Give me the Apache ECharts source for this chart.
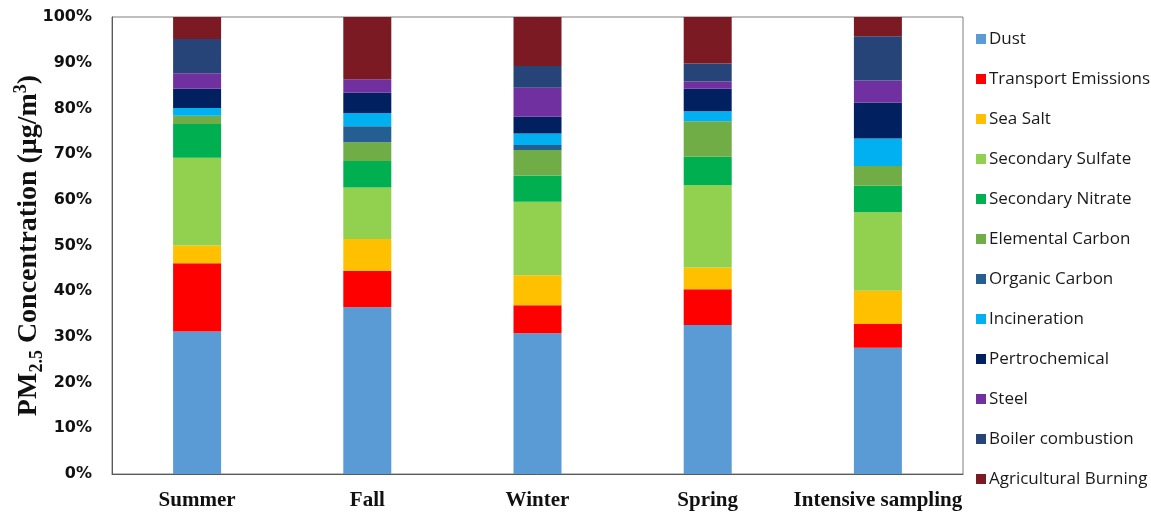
<!DOCTYPE html>
<html>
<head>
<meta charset="utf-8">
<script src="https://cdn.jsdelivr.net/npm/echarts@6/dist/echarts.min.js"></script>
<style>
  html, body { margin: 0; padding: 0; background: #fff; }
  #chart { width: 1151px; height: 513px; }
</style>
</head>
<body>
<div id="chart"></div>
<script>
// Source-apportionment shares of PM2.5 (%) per sampling period
const categories = ['Summer', 'Fall', 'Winter', 'Spring', 'Intensive sampling'];

const dust                = [31.2, 36.5, 30.8, 32.6, 27.6];
const transportEmissions  = [14.9,  8.0,  6.1,  7.8,  5.2];
const seaSalt             = [ 3.9,  6.9,  6.6,  4.8,  7.3];
const secondarySulfate    = [19.2, 11.3, 16.1, 18.0, 17.2];
const secondaryNitrate    = [ 7.4,  5.8,  5.7,  6.2,  5.8];
const elementalCarbon     = [ 1.8,  4.1,  5.6,  7.8,  4.3];
const organicCarbon       = [ 0.0,  3.5,  1.1,  0.0,  0.0];
const incineration        = [ 1.7,  2.9,  2.5,  2.2,  6.0];
const pertrochemical      = [ 4.2,  4.4,  3.7,  4.9,  7.9];
const steel               = [ 3.4,  3.0,  6.3,  1.6,  4.8];
const boilerCombustion    = [ 7.5,  0.0,  4.8,  3.9,  9.7];
const agriculturalBurning = [ 4.8, 13.6, 10.7, 10.2,  4.2];

const yTicks = [0, 10, 20, 30, 40, 50, 60, 70, 80, 90, 100];

const seriesDefs = [
  ['Dust', dust, '#5B9BD5'],
  ['Transport Emissions', transportEmissions, '#FF0000'],
  ['Sea Salt', seaSalt, '#FFC000'],
  ['Secondary Sulfate', secondarySulfate, '#92D050'],
  ['Secondary Nitrate', secondaryNitrate, '#00B050'],
  ['Elemental Carbon', elementalCarbon, '#70AD47'],
  ['Organic Carbon', organicCarbon, '#255E91'],
  ['Incineration', incineration, '#00B0F0'],
  ['Pertrochemical', pertrochemical, '#002060'],
  ['Steel', steel, '#7030A0'],
  ['Boiler combustion', boilerCombustion, '#264478'],
  ['Agricultural Burning', agriculturalBurning, '#7B1A22']
];

const chart = echarts.init(document.getElementById('chart'), null, { renderer: 'canvas' });

const serif = '"Liberation Serif", "Times New Roman", serif';

const option = {
  animation: false,
  backgroundColor: '#ffffff',
  grid: {
    left: 112, right: 188, top: 17, bottom: 39,
    outerBoundsMode: 'none',
    containLabel: false,
    show: true, borderColor: '#7f7f7f', borderWidth: 1, backgroundColor: 'transparent'
  },
  legend: {
    orient: 'vertical',
    left: 971,
    top: 24,
    itemWidth: 10,
    itemHeight: 10,
    itemGap: 20,
    icon: 'rect',
    selectedMode: false,
    textStyle: {
      fontFamily: '"Open Sans", sans-serif',
      fontSize: 17,
      color: '#1a1a1a',
      lineHeight: 20,
      padding: [0, 0, 0, -2]
    },
    data: seriesDefs.map(d => d[0])
  },
  xAxis: {
    type: 'category',
    data: categories,
    axisLine: { lineStyle: { color: '#595959', width: 1 } },
    axisTick: { show: false },
    axisLabel: {
      interval: 0,
      margin: 16,
      fontFamily: serif,
      fontWeight: 'bold',
      fontSize: 21,
      color: '#111'
    }
  },
  yAxis: {
    type: 'value',
    min: yTicks[0],
    max: yTicks[yTicks.length - 1],
    interval: 10,
    splitLine: { show: false },
    axisLine: { show: true, lineStyle: { color: '#595959', width: 1 } },
    axisTick: { show: false },
    axisLabel: {
      margin: 20,
      fontFamily: '"DejaVu Sans", sans-serif',
      fontWeight: 'bold',
      fontSize: 16,
      color: '#111',
      formatter: v => v + '%'
    },
    name: '{m|PM}{s|2.5}{m| Concentration (μg/m}{p|3}{m|)}',
    nameLocation: 'middle',
    nameRotate: 90,
    nameGap: 66,
    nameMoveOverlap: false,
    nameTextStyle: {
      rich: {
        m: { fontFamily: serif, fontWeight: 'bold', fontSize: 28, color: '#111', lineHeight: 34, verticalAlign: 'middle' },
        s: { fontFamily: serif, fontWeight: 'bold', fontSize: 18, color: '#111', lineHeight: 18, verticalAlign: 'bottom' },
        p: { fontFamily: serif, fontWeight: 'bold', fontSize: 18, color: '#111', lineHeight: 18, verticalAlign: 'top' }
      }
    }
  },
  series: seriesDefs.map(([name, values, color]) => ({
    name: name,
    type: 'bar',
    stack: 'total',
    barWidth: 48,
    data: values,
    itemStyle: { color: color }
  }))
};

chart.setOption(option);
</script>
</body>
</html>
